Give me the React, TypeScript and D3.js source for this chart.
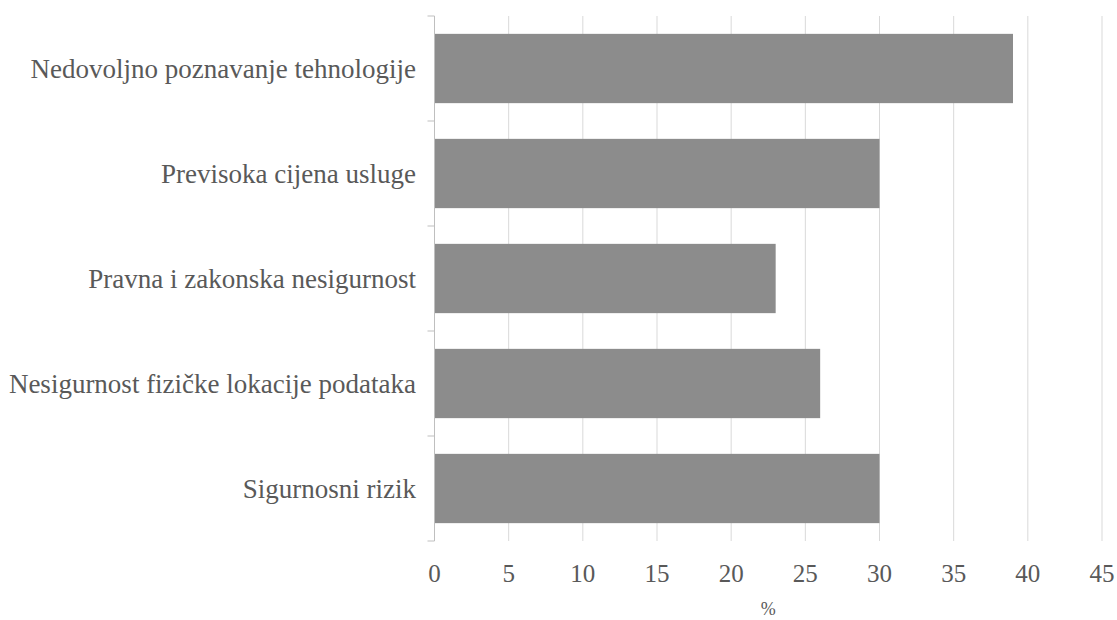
import React from "react";
import * as d3 from "d3";

const categories = [
  "Nedovoljno poznavanje tehnologije",
  "Previsoka cijena usluge",
  "Pravna i zakonska nesigurnost",
  "Nesigurnost fizičke lokacije podataka",
  "Sigurnosni rizik",
];
const values = [39, 30, 23, 26, 30];
const xTicks = [0, 5, 10, 15, 20, 25, 30, 35, 40, 45];
const xLabel = "%";

export default function App() {
  const W = 1117, H = 620;
  const left = 434.5, right = 1102, top = 16, bottom = 541;
  const x = d3.scaleLinear().domain([0, 45]).range([left, right]);
  const y = d3.scaleBand().domain(categories).range([top, bottom]).paddingInner(0.34).paddingOuter(0.17);
  const step = y.step();
  const font = "Liberation Serif, Times New Roman, Tinos, DejaVu Serif, serif";
  return (
    <svg width={W} height={H} style={{ position: "absolute", left: 0, top: 0, background: "#fff", fontFamily: font }}>
      {xTicks.map((t) => (
        <line key={"g" + t} x1={x(t)} x2={x(t)} y1={top} y2={bottom} stroke="#d9d9d9" strokeWidth={1} />
      ))}
      {categories.map((c, i) => (
        <rect key={c} x={x(0)} y={y(c)!} width={x(values[i]) - x(0)} height={y.bandwidth()} fill="#8c8c8c" />
      ))}
      <line x1={left} x2={left} y1={top} y2={bottom} stroke="#bfbfbf" strokeWidth={1} />
      {d3.range(categories.length + 1).map((i) => (
        <line key={"t" + i} x1={left - 7} x2={left} y1={top + i * step} y2={top + i * step} stroke="#bfbfbf" strokeWidth={1} />
      ))}
      {categories.map((c) => (
        <text key={"l" + c} x={416} y={y(c)! + y.bandwidth() / 2} dy="0.35em" textAnchor="end" style={{ fontFamily: font }} fontSize={27} fill="#595959">
          {c}
        </text>
      ))}
      {xTicks.map((t) => (
        <text key={"x" + t} x={x(t)} y={582} textAnchor="middle" style={{ fontFamily: font }} fontSize={25} fill="#595959">
          {t}
        </text>
      ))}
      <text x={(left + right) / 2} y={615} textAnchor="middle" style={{ fontFamily: font }} fontSize={18} fill="#595959">
        {xLabel}
      </text>
    </svg>
  );
}
